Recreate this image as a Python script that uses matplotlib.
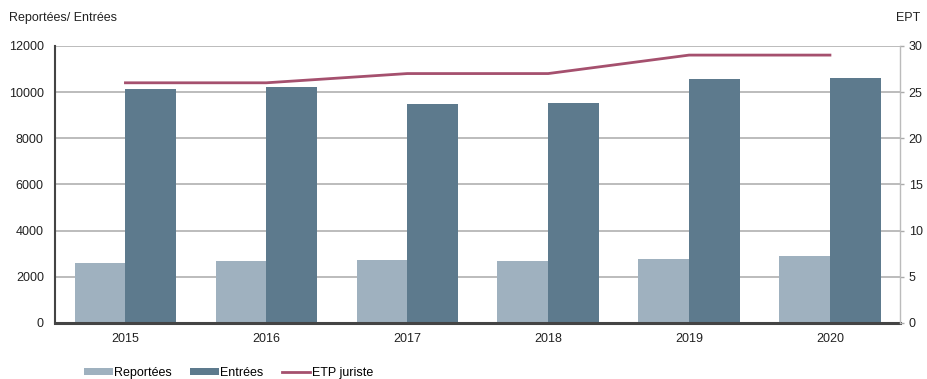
import matplotlib.pyplot as plt
import numpy as np

plt.rcParams['font.family'] = ['Liberation Sans', 'DejaVu Sans']

annees = ['2015', '2016', '2017', '2018', '2019', '2020']
reportees = [2600, 2690, 2730, 2690, 2770, 2900]
entrees = [10140, 10225, 9490, 9530, 10570, 10615]
etp = [26, 26, 27, 27, 29, 29]

c_rep = '#9fb1bf'
c_ent = '#5d7a8d'
c_etp = '#a5506e'

fig = plt.figure(figsize=(9.27, 3.79), dpi=100)
ax = fig.add_axes([0.0593, 0.148, 0.912, 0.731])
x = np.arange(len(annees))
w = 0.36

ax.set_axisbelow(True)
ax.yaxis.grid(True, color='#b0b0b0', lw=1.2)
b1 = ax.bar(x - w / 2, reportees, w, color=c_rep, label='Reportées')
b2 = ax.bar(x + w / 2, entrees, w, color=c_ent, label='Entrées')
ax.set_xlim(-0.5, len(annees) - 0.5)
ax.set_ylim(0, 12000)
ax.set_yticks(np.arange(0, 12001, 2000))
ax.set_xticks(x)
ax.set_xticklabels(annees)
ax.tick_params(axis='both', labelsize=9, length=0, colors='#222222')
ax.tick_params(axis='y', pad=8)
ax.tick_params(axis='x', pad=7)
ax.spines['top'].set_visible(False)
ax.spines['right'].set_visible(False)
ax.spines['left'].set_color('#444444')
ax.spines['left'].set_linewidth(1.5)
ax.spines['bottom'].set_color('#444444')
ax.spines['bottom'].set_linewidth(2.2)

ax2 = ax.twinx()
l1, = ax2.plot(x, etp, color=c_etp, lw=2, label='ETP juriste')
ax2.set_ylim(0, 30)
ax2.set_yticks(np.arange(0, 31, 5))
ax2.tick_params(axis='y', labelsize=9, length=3, width=1, color='#aaaaaa',
                labelcolor='#222222', pad=3)
for s in ['top', 'left', 'bottom']:
    ax2.spines[s].set_visible(False)
ax2.spines['right'].set_color('#bbbbbb')
ax2.spines['right'].set_linewidth(1)

fig.text(0.0097, 0.945, 'Reportées/ Entrées', fontsize=9, color='#222222')
fig.text(0.967, 0.945, 'EPT', fontsize=9, color='#222222')

fig.legend([b1, b2, l1], ['Reportées', 'Entrées', 'ETP juriste'],
           loc='lower left', bbox_to_anchor=(0.079, -0.03), ncol=3,
           frameon=False, fontsize=9, handlelength=2.3, handleheight=0.45,
           handletextpad=0.1, columnspacing=1.45)

fig.savefig('out.png', dpi=100)
